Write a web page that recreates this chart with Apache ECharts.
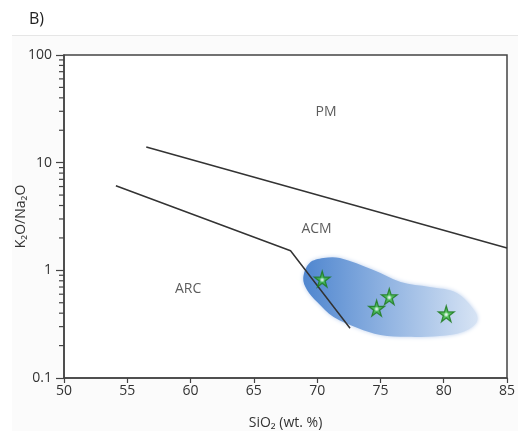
<!DOCTYPE html>
<html>
<head>
<meta charset="utf-8">
<script src="https://cdn.jsdelivr.net/npm/echarts@6/dist/echarts.min.js"></script>
<style>
  html, body { margin: 0; padding: 0; background: #fff; }
  #chart { width: 518px; height: 431px; }
</style>
</head>
<body>
<div id="chart"></div>
<script>
  // axis ticks
  const xTicks = [50, 55, 60, 65, 70, 75, 80, 85]
  const yMinorTicks = [0.2, 0.3, 0.4, 0.5, 0.6, 0.7, 0.8, 0.9,
    2, 3, 4, 5, 6, 7, 8, 9,
    20, 30, 40, 50, 60, 70, 80, 90]

  // PM / ACM boundary
  const pmLineX = [56.5, 85]
  const pmLineY = [14.0, 1.61]

  // ACM / ARC boundary
  const arcLineX = [54.1, 67.9, 72.6]
  const arcLineY = [6.1, 1.52, 0.29]

  // samples (stars)
  const sampleX = [70.4, 75.7, 74.7, 80.2]
  const sampleY = [0.83, 0.57, 0.445, 0.395]

  // shaded sample field outline
  const fieldX = [68.9, 69.4, 70.5, 71.8, 74.4, 76.6, 78.9, 81.0, 82.5, 82.6, 81.5, 79.7, 77.1, 75.0, 73.2, 71.3, 70.0, 69.2]
  const fieldY = [0.85, 1.17, 1.30, 1.30, 1.01, 0.78, 0.70, 0.62, 0.41, 0.33, 0.268, 0.246, 0.241, 0.251, 0.292, 0.369, 0.509, 0.658]

  // region labels
  const regionNames = ['PM', 'ACM', 'ARC']
  const regionX = [70.7, 69.95, 59.8]
  const regionY = [29.6, 2.42, 0.67]

  const starPath = 'path://M50,0 L61,35 L98,35 L68,57 L79,91 L50,70 L21,91 L32,57 L2,35 L39,35 Z'
  const textColor = '#333'
  const lineColor = '#333'
  const axisColor = '#444'

  const chart = echarts.init(document.getElementById('chart'))

  const option = {
    animation: false,
    backgroundColor: '#fff',
    textStyle: { fontFamily: 'Open Sans, Noto Sans, DejaVu Sans, sans-serif' },
    graphic: [
      {
        type: 'rect',
        z: -10,
        shape: { x: 12, y: 36, width: 506, height: 395 },
        style: { fill: '#fbfbfb' }
      },
      {
        type: 'line',
        shape: { x1: 12, y1: 35.5, x2: 518, y2: 35.5 },
        style: { stroke: '#e6e6e6', lineWidth: 1 }
      },
      {
        type: 'text',
        left: 29,
        top: 11,
        style: { text: 'B)', fontSize: 16, fill: '#222', fontFamily: 'Open Sans, sans-serif' }
      }
    ],
    grid: {
      left: 64,
      right: 11,
      top: 55,
      bottom: 53,
      outerBoundsMode: 'none',
      show: true,
      backgroundColor: '#fff',
      borderColor: axisColor,
      borderWidth: 1.5
    },
    xAxis: {
      type: 'value',
      min: 50,
      max: 85,
      interval: 5,
      name: 'SiO₂ (wt. %)',
      nameLocation: 'middle',
      nameGap: 38,
      nameMoveOverlap: false,
      nameTextStyle: { color: textColor, fontSize: 14 },
      axisLine: { lineStyle: { color: axisColor, width: 1.5 } },
      axisTick: { length: 5, lineStyle: { color: axisColor, width: 1.2 } },
      axisLabel: {
        color: textColor,
        fontSize: 14,
        margin: 6,
        formatter: v => (xTicks.includes(v) ? String(v) : '')
      },
      splitLine: { show: false }
    },
    yAxis: {
      type: 'log',
      logBase: 10,
      min: 0.1,
      max: 100,
      name: 'K₂O/Na₂O',
      nameLocation: 'middle',
      nameGap: 36,
      nameMoveOverlap: false,
      nameTextStyle: { color: textColor, fontSize: 14 },
      axisLine: { show: true, lineStyle: { color: axisColor, width: 1.5 } },
      axisTick: { show: true, length: 8, lineStyle: { color: axisColor, width: 1.2 } },
      axisLabel: {
        color: textColor,
        fontSize: 14,
        margin: 12,
        formatter: v => String(v)
      },
      splitLine: { show: false }
    },
    series: [
      {
        // minor ticks on the log axis
        type: 'custom',
        clip: false,
        silent: true,
        z: 5,
        data: yMinorTicks.map(v => [50, v]),
        renderItem: (params, api) => {
          const p = api.coord([api.value(0), api.value(1)])
          return {
            type: 'line',
            shape: { x1: p[0] - 5, y1: p[1], x2: p[0], y2: p[1] },
            style: { stroke: axisColor, lineWidth: 1.2 }
          }
        }
      },
      {
        // shaded field of the samples
        type: 'custom',
        silent: true,
        z: 1,
        data: [[fieldX[0], fieldY[0]]],
        renderItem: (params, api) => {
          const pts = fieldX.map((x, i) => api.coord([x, fieldY[i]]))
          const xs = pts.map(p => p[0])
          const x0 = Math.min(...xs)
          const x1 = Math.max(...xs)
          return {
            type: 'polygon',
            shape: { points: pts, smooth: 0.35 },
            style: {
              fill: new echarts.graphic.LinearGradient(x0, 0, x1, 0, [
                { offset: 0, color: '#4f86cf' },
                { offset: 0.5, color: '#93b5e2' },
                { offset: 1, color: '#d6e3f4' }
              ], true),
              shadowBlur: 4,
              shadowColor: 'rgba(120,160,220,0.5)'
            }
          }
        }
      },
      {
        type: 'line',
        data: pmLineX.map((x, i) => [x, pmLineY[i]]),
        showSymbol: false,
        z: 3,
        lineStyle: { color: lineColor, width: 1.5 }
      },
      {
        type: 'line',
        data: arcLineX.map((x, i) => [x, arcLineY[i]]),
        showSymbol: false,
        z: 3,
        lineStyle: { color: lineColor, width: 1.5 }
      },
      {
        type: 'scatter',
        symbol: starPath,
        symbolSize: 16,
        z: 4,
        data: sampleX.map((x, i) => [x, sampleY[i]]),
        itemStyle: {
          color: new echarts.graphic.RadialGradient(0.5, 0.55, 0.5, [
            { offset: 0, color: '#ffffff' },
            { offset: 0.12, color: '#c9f2c9' },
            { offset: 0.3, color: '#3cbc3c' },
            { offset: 1, color: '#2a9a2a' }
          ]),
          borderColor: '#1d7a1d',
          borderWidth: 1.2
        }
      },
      {
        type: 'scatter',
        symbolSize: 0,
        z: 4,
        data: regionNames.map((n, i) => ({ name: n, value: [regionX[i], regionY[i]] })),
        label: {
          show: true,
          position: 'inside',
          formatter: p => p.name,
          color: textColor,
          fontSize: 14
        }
      }
    ]
  }

  chart.setOption(option)
</script>
</body>
</html>
